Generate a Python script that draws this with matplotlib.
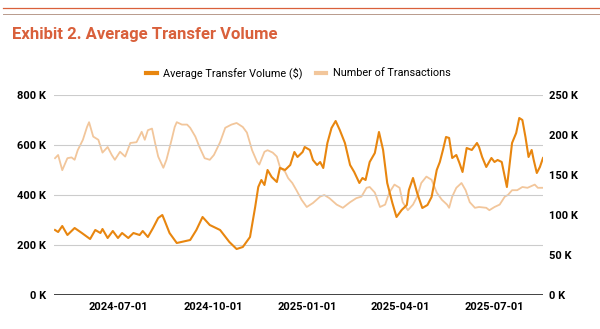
import numpy as np
import pandas as pd
import matplotlib
matplotlib.use("Agg")
import matplotlib.pyplot as plt
import matplotlib.dates as mdates
from matplotlib.lines import Line2D
from matplotlib.ticker import FixedLocator

plt.rcParams["font.family"] = ["Roboto", "DejaVu Sans"]

C_VOL = "#E8860F"
C_TX = "#F2C69B"
C_TITLE = "#D9603B"

# ── Data ──────────────────────────────────────────────────────────────────────
vol_dates = [
    "2024-05-01", "2024-05-04", "2024-05-08", "2024-05-13", "2024-05-20", "2024-05-27",
    "2024-06-04", "2024-06-09", "2024-06-14", "2024-06-16", "2024-06-21", "2024-06-26",
    "2024-07-01", "2024-07-05", "2024-07-11", "2024-07-16", "2024-07-22", "2024-07-25",
    "2024-07-30", "2024-08-04", "2024-08-09", "2024-08-13", "2024-08-15", "2024-08-20",
    "2024-08-27", "2024-09-09", "2024-09-15", "2024-09-21", "2024-09-28",
    "2024-10-08", "2024-10-17", "2024-10-24", "2024-10-30", "2024-11-06", "2024-11-11",
    "2024-11-14", "2024-11-17", "2024-11-20", "2024-11-23", "2024-11-27", "2024-12-02",
    "2024-12-05", "2024-12-10", "2024-12-15", "2024-12-19", "2024-12-22", "2024-12-27",
    "2024-12-29", "2025-01-03", "2025-01-06", "2025-01-10", "2025-01-13", "2025-01-16",
    "2025-01-20", "2025-01-24", "2025-01-28", "2025-02-01", "2025-02-06", "2025-02-11",
    "2025-02-15", "2025-02-20", "2025-02-23", "2025-02-26", "2025-03-02", "2025-03-07",
    "2025-03-11", "2025-03-15", "2025-03-19", "2025-03-24", "2025-03-28", "2025-04-02",
    "2025-04-07", "2025-04-09", "2025-04-13", "2025-04-17", "2025-04-22", "2025-04-27",
    "2025-05-01", "2025-05-06", "2025-05-09", "2025-05-12", "2025-05-15", "2025-05-18",
    "2025-05-21", "2025-05-25", "2025-05-28", "2025-05-31", "2025-06-04", "2025-06-09",
    "2025-06-14", "2025-06-16", "2025-06-19", "2025-06-23", "2025-06-28", "2025-07-01",
    "2025-07-04", "2025-07-08", "2025-07-11", "2025-07-13", "2025-07-15", "2025-07-18",
    "2025-07-22", "2025-07-25", "2025-07-28", "2025-07-31", "2025-08-03", "2025-08-06",
    "2025-08-08", "2025-08-11", "2025-08-14", "2025-08-17",
]
vol_values = [  # thousands of $
    260, 252, 276, 240, 268, 248, 224, 260, 248, 264, 228, 256,
    228, 248, 228, 248, 240, 256, 232, 268, 308, 320, 300, 248,
    208, 220, 260, 312, 280,
    260, 212, 184, 192, 232, 352,
    432, 460, 440, 500, 472, 452, 508, 500, 520, 572, 552, 572,
    592, 580, 540, 520, 532, 508, 608, 668, 696, 660, 608, 520,
    492, 448, 468, 460, 532, 568, 652, 580, 448, 368, 312, 340,
    360, 420, 468, 408, 348, 360, 392, 500, 532, 580, 632, 628,
    548, 560, 528, 492, 588, 580, 608, 592, 552, 512, 548, 532,
    540, 532, 472, 432, 500, 608, 648, 708, 700, 632, 552, 580,
    540, 488, 512, 548,
]

tx_dates = [
    "2024-05-01", "2024-05-04", "2024-05-08", "2024-05-13", "2024-05-17", "2024-05-20",
    "2024-05-23", "2024-05-28", "2024-06-01", "2024-06-03", "2024-06-07", "2024-06-12",
    "2024-06-16", "2024-06-21", "2024-06-25", "2024-06-28", "2024-07-03", "2024-07-08",
    "2024-07-13", "2024-07-19", "2024-07-24", "2024-07-27", "2024-07-30", "2024-08-03",
    "2024-08-06", "2024-08-09", "2024-08-14", "2024-08-17", "2024-08-22", "2024-08-25",
    "2024-08-27", "2024-09-01", "2024-09-06", "2024-09-09", "2024-09-14", "2024-09-18",
    "2024-09-23", "2024-09-28", "2024-10-02", "2024-10-08", "2024-10-13", "2024-10-19",
    "2024-10-24", "2024-10-30", "2024-11-03", "2024-11-08", "2024-11-13", "2024-11-15",
    "2024-11-20", "2024-11-23", "2024-11-28", "2024-12-02", "2024-12-05", "2024-12-10",
    "2024-12-13", "2024-12-17", "2024-12-21", "2024-12-26", "2024-12-31", "2025-01-06",
    "2025-01-13", "2025-01-17", "2025-01-22", "2025-01-29", "2025-02-04", "2025-02-11",
    "2025-02-17", "2025-02-22", "2025-02-27", "2025-03-02", "2025-03-07", "2025-03-12",
    "2025-03-17", "2025-03-21", "2025-03-26", "2025-03-31", "2025-04-03", "2025-04-08",
    "2025-04-13", "2025-04-17", "2025-04-21", "2025-04-26", "2025-05-01", "2025-05-06",
    "2025-05-11", "2025-05-16", "2025-05-18", "2025-05-21", "2025-05-25", "2025-05-30",
    "2025-06-03", "2025-06-07", "2025-06-12", "2025-06-16", "2025-06-23", "2025-06-26",
    "2025-07-01", "2025-07-06", "2025-07-11", "2025-07-14", "2025-07-18", "2025-07-23",
    "2025-07-28", "2025-08-02", "2025-08-09", "2025-08-12", "2025-08-17",
]
tx_values = [  # thousands of transactions
    171, 175, 156, 171, 172, 169, 181, 194, 210, 216, 198, 194,
    178, 185, 175, 169, 179, 173, 190, 191, 204, 194, 206, 208,
    190, 173, 159, 169, 194, 210, 216, 213, 213, 209, 198, 185,
    171, 169, 175, 191, 209, 213, 215, 210, 203, 181, 166, 163,
    179, 181, 178, 173, 160, 154, 146, 140, 131, 119, 110, 115,
    123, 125, 121, 113, 109, 116, 121, 123, 134, 135, 128, 110,
    113, 128, 138, 134, 116, 106, 113, 123, 140, 148, 144, 128,
    119, 113, 109, 123, 134, 140, 131, 116, 109, 110, 109, 106,
    110, 113, 123, 125, 131, 131, 135, 134, 138, 134, 134,
]

left_ticks = [0, 200, 400, 600, 800]
right_ticks = [0, 50, 100, 150, 200, 250]
x_ticks = ["2024-07-01", "2024-10-01", "2025-01-01", "2025-04-01", "2025-07-01"]

# ── Figure ─────────────────────────────────────────────────────────────────────
fig = plt.figure(figsize=(6.0, 3.29), dpi=100)
ax = fig.add_axes([0.09, 0.1033, 0.815, 0.608])
ax2 = ax.twinx()

# decorative header rules
fig.add_artist(Line2D([0.005, 1.0], [1 - 8 / 329] * 2, color="#D9603B", lw=0.9))
fig.add_artist(Line2D([0.005, 1.0], [1 - 14 / 329] * 2, color="#B89A8C", lw=0.7))
fig.text(0.02, 1 - 34 / 329, "Exhibit 2. Average Transfer Volume", color=C_TITLE,
         fontsize=12, fontweight="bold", va="center", ha="left")

ax2.plot(pd.to_datetime(tx_dates), tx_values, color=C_TX, lw=1.3, zorder=2)
ax.plot(pd.to_datetime(vol_dates), vol_values, color=C_VOL, lw=1.5, zorder=3)
ax.set_zorder(ax2.get_zorder() + 1)
ax.patch.set_visible(False)

ax.set_xlim(pd.Timestamp("2024-04-30"), pd.Timestamp("2025-08-17"))
ax.set_ylim(0, 800)
ax2.set_ylim(0, 250)
ax.set_yticks(left_ticks)
ax.set_yticklabels([f"{v} K" for v in left_ticks])
ax2.set_yticks(right_ticks)
ax2.set_yticklabels([f"{v} K" for v in right_ticks])
ax.xaxis.set_major_locator(FixedLocator(mdates.date2num(pd.to_datetime(x_ticks))))
ax.xaxis.set_major_formatter(mdates.DateFormatter("%Y-%m-%d"))

ax.grid(axis="y", color="#CCCCCC", lw=0.8)
for a in (ax, ax2):
    for side in ("top", "left", "right", "bottom"):
        a.spines[side].set_visible(False)
    a.tick_params(length=0, labelsize=8)
    for lab in a.get_xticklabels() + a.get_yticklabels():
        lab.set_fontweight("bold")
ax.axhline(0, color="#222222", lw=1.2, zorder=4)
ax.tick_params(axis="y", pad=6)
ax.tick_params(axis="x", pad=5)
ax2.tick_params(axis="y", pad=4)

handles = [Line2D([], [], color=C_VOL, lw=3), Line2D([], [], color=C_TX, lw=3)]
fig.legend(handles, ["Average Transfer Volume ($)", "Number of Transactions"],
           loc="center", bbox_to_anchor=(0.497, 1 - 73 / 329), ncol=2, frameon=False,
           fontsize=7.8, handlelength=1.0, handletextpad=0.6, columnspacing=1.2)

fig.savefig("out.png", dpi=100)
